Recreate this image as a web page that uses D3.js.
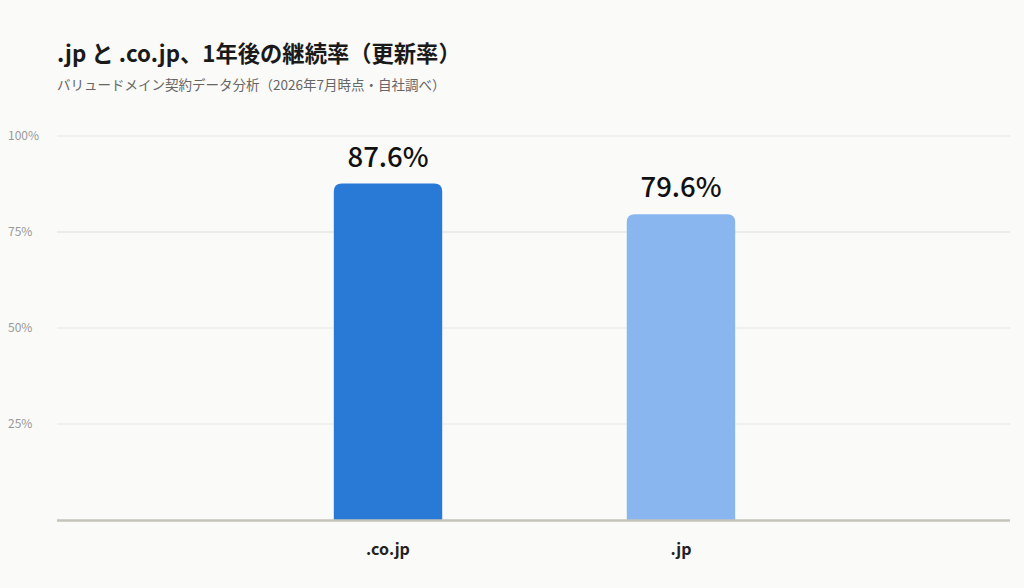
<!DOCTYPE html>
<html><head><meta charset="utf-8">
<script src="https://cdn.jsdelivr.net/npm/d3@7"></script>
<style>
html,body{margin:0;padding:0;background:#fafaf8;}
svg{display:block;font-family:"Noto Sans CJK JP","Noto Sans",sans-serif;}
</style></head>
<body>
<svg id="chart" width="1024" height="588"></svg>
<script>
const categories = [".co.jp", ".jp"];
const values = [87.6, 79.6];
const barColors = ["#2979d6", "#89b6ee"];
const tickValues = [25, 50, 75, 100];
const title = ".jp と .co.jp、1年後の継続率（更新率）";
const subtitle = "バリュードメイン契約データ分析（2026年7月時点・自社調べ）";

const svg = d3.select("#chart");
const W = 1024, H = 588;
const m = {left: 57, right: 14, top: 136, bottom: 68};
const x0 = m.left, x1 = W - m.right, yTop = m.top, yBot = H - m.bottom;

svg.append("rect").attr("width", W).attr("height", H).attr("fill", "#fafaf8");

svg.append("text").attr("x", 57).attr("y", 62)
  .attr("font-size", 22.3).attr("font-weight", 700).attr("fill", "#1a1a1a").text(title);
svg.append("text").attr("x", 57).attr("y", 90)
  .attr("font-size", 13.5).attr("fill", "#666").text(subtitle);

const y = d3.scaleLinear().domain([0, 100]).range([yBot, yTop]);
const x = d3.scaleBand().domain(categories).range([x0 + 2, x1]).paddingInner(0.63).paddingOuter(0.938);

// gridlines
const g = svg.append("g");
g.selectAll("line.grid").data(tickValues).enter().append("line")
  .attr("x1", x0).attr("x2", x1)
  .attr("y1", d => y(d)).attr("y2", d => y(d))
  .attr("stroke", d => d === 75 ? "#dcdcd6" : "#e6e6e2").attr("stroke-width", 1);

g.selectAll("text.tick").data(tickValues).enter().append("text")
  .attr("x", 8).attr("y", d => y(d)).attr("dy", "0.35em")
  .attr("font-size", 12).attr("fill", "#999").text(d => d + "%");

// bars with rounded top
const r = 8;
function barPath(d, i) {
  const bx = x(categories[i]), bw = x.bandwidth(), top = y(d), bot = y(0);
  return `M${bx},${bot}V${top + r}Q${bx},${top} ${bx + r},${top}H${bx + bw - r}Q${bx + bw},${top} ${bx + bw},${top + r}V${bot}Z`;
}
svg.selectAll("path.bar").data(values).enter().append("path")
  .attr("d", barPath).attr("fill", (d, i) => barColors[i]);

// value labels
svg.selectAll("text.val").data(values).enter().append("text")
  .attr("x", (d, i) => x(categories[i]) + x.bandwidth() / 2)
  .attr("y", d => y(d) - 17)
  .attr("text-anchor", "middle").attr("font-size", 27.5).attr("font-weight", 500)
  .attr("fill", "#111").text(d => d.toFixed(1) + "%");

// baseline
svg.append("line").attr("x1", x0).attr("x2", x1).attr("y1", y(0) + 0.5).attr("y2", y(0) + 0.5)
  .attr("stroke", "#c4c4bc").attr("stroke-width", 2.5);

// x labels
svg.selectAll("text.cat").data(categories).enter().append("text")
  .attr("x", d => x(d) + x.bandwidth() / 2).attr("y", 555)
  .attr("text-anchor", "middle").attr("font-size", 16).attr("font-weight", 700)
  .attr("fill", "#222").text(d => d);
</script>
</body></html>
